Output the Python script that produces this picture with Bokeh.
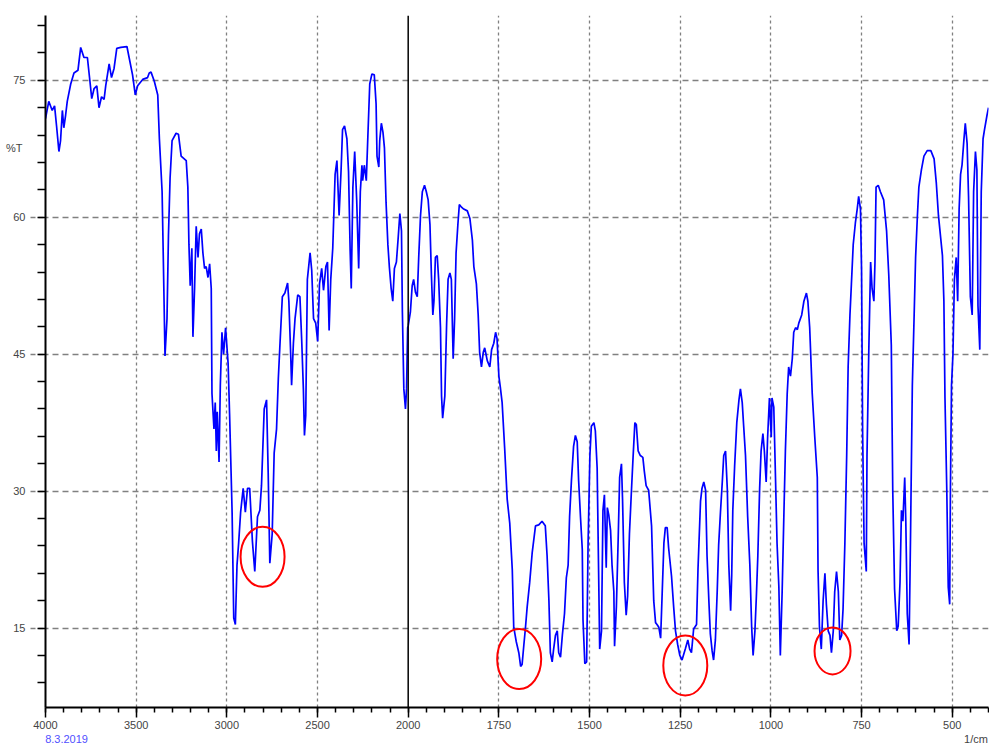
import numpy as np
from bokeh.plotting import figure
from bokeh.models import Range1d, FixedTicker, Span, ColumnDataSource, LinearAxis
from bokeh.embed import file_html
from bokeh.resources import INLINE

# ---------------- data ----------------
wn_high = [4000, 3982, 3963, 3950, 3939, 3926, 3917, 3907, 3899, 3889, 3880, 3861, 3843, 3821,
           3806, 3788, 3769, 3755, 3745, 3732, 3717, 3705, 3691, 3677, 3668, 3649, 3636, 3622,
           3607, 3585, 3551, 3539, 3520, 3505, 3492, 3464, 3437, 3428, 3418, 3400, 3381, 3372,
           3357, 3350, 3341, 3330, 3322, 3313, 3302, 3280, 3267, 3252, 3224, 3215, 3209, 3202,
           3193, 3187, 3178, 3169, 3159, 3151, 3141, 3132, 3123, 3114, 3104, 3095, 3086, 3082,
           3071, 3064, 3058, 3053, 3043, 3036, 3027, 3018, 3007, 2993, 2985, 2971, 2962, 2953,
           2944, 2935, 2924, 2910, 2898, 2886, 2874, 2859, 2846, 2831, 2818, 2809, 2794, 2781,
           2772, 2763, 2750, 2739, 2726, 2716, 2708, 2694, 2680, 2665, 2658, 2648, 2643, 2633,
           2624, 2609, 2597, 2587, 2578, 2572, 2565, 2556, 2541, 2532, 2522, 2510, 2499, 2489,
           2477, 2467, 2454, 2445, 2436, 2427, 2416, 2403, 2393, 2381, 2370, 2362, 2351, 2338,
           2329, 2320, 2314, 2305, 2295, 2284, 2273, 2264, 2255, 2251, 2242, 2231, 2222, 2212,
           2200, 2187, 2177, 2172, 2162, 2157, 2148, 2139, 2131, 2122, 2112, 2104, 2094, 2085,
           2076, 2065, 2055, 2046, 2037, 2032, 2024, 2015, 2009, 2003]
t_high = [70.8, 72.7, 71.7, 72.2, 70.0, 67.2, 68.4, 71.7, 69.8, 71.2, 72.7, 74.6, 75.8, 76.1,
          78.6, 77.5, 77.5, 74.9, 73.0, 74.1, 74.4, 72.0, 73.2, 72.9, 74.4, 76.8, 75.3, 76.3,
          78.5, 78.6, 78.7, 77.5, 75.6, 73.4, 74.4, 75.1, 75.3, 75.8, 75.9, 74.9, 73.4, 68.6,
          62.8, 55.1, 44.8, 48.9, 58.0, 64.3, 68.4, 69.2, 69.1, 66.7, 66.2, 63.3, 57.0, 52.5,
          56.6, 46.9, 52.2, 59.0, 55.6, 58.2, 58.7, 56.1, 54.4, 54.6, 53.4, 54.9, 52.2, 40.7,
          36.8, 39.7, 34.4, 38.7, 33.2, 41.6, 47.4, 45.0, 47.9, 44.0, 38.5, 27.7, 16.1, 15.4,
          21.9, 24.3, 27.7, 30.3, 27.7, 30.3, 30.3, 24.5, 21.2, 27.2, 27.9, 30.6, 39.0, 40.0,
          32.0, 22.1, 25.3, 34.2, 36.8, 42.4, 45.7, 51.3, 51.7, 52.8, 50.8, 45.0, 41.6, 46.2,
          48.9, 51.5, 51.3, 46.4, 41.2, 36.1, 38.3, 53.2, 56.1, 54.2, 48.9, 48.4, 46.4, 52.7,
          54.4, 52.0, 54.6, 55.1, 47.6, 53.2, 56.6, 64.7, 66.2, 60.2, 65.2, 69.6, 70.0, 68.6,
          65.0, 56.3, 52.2, 63.3, 67.2, 61.9, 54.4, 62.8, 65.7, 64.0, 65.7, 64.0, 69.1, 74.6,
          75.7, 75.6, 72.4, 66.7, 65.5, 68.4, 70.3, 69.3, 67.6, 61.6, 57.0, 54.6, 52.2, 50.8,
          54.4, 55.1, 57.8, 60.4, 58.5, 49.6, 41.2, 39.0, 41.2, 47.9]

wn_low = [2000, 1994, 1989, 1985, 1980, 1975, 1971, 1966, 1961, 1955, 1950, 1945, 1940, 1936,
          1932, 1929, 1925, 1920, 1916, 1911, 1908, 1905, 1899, 1894, 1890, 1885, 1881, 1876,
          1872, 1868, 1863, 1859, 1853, 1847, 1837, 1830, 1823, 1819, 1812, 1807, 1803, 1798,
          1793, 1789, 1782, 1775, 1770, 1764, 1759, 1755, 1750, 1746, 1741, 1734, 1727, 1720,
          1713, 1709, 1702, 1695, 1690, 1686, 1681, 1677, 1672, 1665, 1658, 1649, 1640, 1631,
          1622, 1617, 1612, 1608, 1603, 1599, 1594, 1589, 1585, 1580, 1575, 1569, 1564, 1559,
          1555, 1550, 1544, 1539, 1534, 1530, 1525, 1520, 1518, 1513, 1508, 1504, 1499, 1495,
          1488, 1484, 1479, 1475, 1472, 1467, 1463, 1459, 1454, 1451, 1447, 1442, 1438, 1433,
          1431, 1426, 1421, 1417, 1412, 1409, 1404, 1399, 1395, 1390, 1385, 1380, 1375, 1371,
          1366, 1360, 1353, 1349, 1344, 1337, 1329, 1323, 1318, 1314, 1309, 1304, 1300, 1295,
          1291, 1286, 1282, 1274, 1268, 1263, 1257, 1251, 1245, 1236, 1229, 1224, 1219, 1213,
          1205, 1201, 1194, 1190, 1185, 1180, 1176, 1171, 1167, 1162, 1158, 1153, 1148, 1144,
          1139, 1134, 1130, 1125, 1120, 1116, 1111, 1108, 1105, 1100, 1094, 1088, 1084, 1079,
          1075, 1070, 1064, 1058, 1053, 1049, 1044, 1040, 1036, 1031, 1027, 1022, 1018, 1013,
          1009, 1004, 999, 997, 992, 987, 983, 978, 974, 969, 964, 960, 955, 951,
          946, 941, 937, 932, 927, 923, 915, 909, 902, 898, 893, 886, 879, 872,
          870, 866, 861, 856, 851, 847, 842, 837, 833, 828, 824, 819, 814, 810,
          805, 801, 796, 791, 787, 782, 778, 773, 767, 762, 758, 753, 750, 747,
          743, 737, 735, 730, 725, 721, 716, 713, 710, 704, 698, 689, 681, 675,
          668, 664, 659, 653, 649, 644, 640, 636, 631, 628, 624, 619, 615, 610,
          605, 601, 596, 592, 585, 578, 569, 559, 550, 544, 538, 532, 527, 523,
          520, 515, 511, 507, 505, 502, 498, 494, 489, 485, 481, 477, 473, 468,
          464, 459, 455, 450, 445, 441, 436, 432, 429, 424, 420, 415, 411, 404, 400]
t_low = [48.1, 49.6, 52.5, 53.2, 51.8, 51.3, 55.6, 60.2, 62.8, 63.5, 62.8, 61.9, 59.2, 53.7,
         49.3, 50.8, 55.6, 55.8, 53.2, 47.9, 40.4, 38.0, 40.4, 48.4, 53.2, 53.9, 53.2, 44.5,
         48.9, 56.1, 59.2, 61.4, 61.1, 60.9, 60.7, 59.9, 57.5, 54.6, 52.7, 49.3, 45.2, 43.6,
         45.2, 45.7, 44.3, 43.6, 45.5, 46.2, 47.4, 46.7, 42.6, 41.4, 39.7, 34.7, 29.1, 26.5,
         21.4, 15.1, 13.5, 12.3, 10.8, 11.0, 13.2, 14.9, 17.3, 20.0, 23.3, 26.2, 26.3, 26.7,
         26.2, 22.9, 18.0, 12.3, 11.3, 12.7, 14.2, 14.7, 12.3, 11.8, 14.2, 16.6, 20.5, 21.9,
         27.2, 31.1, 34.9, 36.1, 35.4, 31.1, 27.2, 23.6, 15.9, 11.1, 11.3, 24.3, 33.9, 37.1,
         37.5, 36.6, 32.5, 21.2, 12.7, 14.7, 27.9, 29.6, 21.6, 28.2, 27.4, 25.7, 21.9, 19.0,
         13.0, 17.3, 24.8, 31.5, 33.0, 29.1, 20.0, 16.4, 18.5, 25.3, 29.6, 33.7, 37.5, 37.3,
         34.4, 33.9, 33.7, 32.2, 30.6, 30.1, 26.2, 18.0, 15.6, 15.4, 15.1, 13.9, 18.5, 24.3,
         26.0, 26.0, 23.8, 20.7, 17.3, 14.7, 13.2, 12.0, 11.5, 12.7, 13.7, 12.7, 12.3, 14.9,
         15.4, 21.4, 28.9, 30.3, 31.0, 30.1, 22.9, 18.0, 14.4, 12.5, 11.5, 13.7, 19.0, 24.1,
         27.7, 31.0, 33.9, 34.4, 30.1, 21.9, 16.9, 20.8, 27.9, 32.7, 37.5, 40.0, 41.2, 39.7,
         37.1, 33.9, 27.2, 21.9, 15.1, 12.0, 14.7, 18.5, 22.9, 30.3, 34.4, 36.3, 34.4, 31.0,
         35.9, 40.2, 35.9, 40.2, 39.2, 31.0, 24.3, 19.5, 12.0, 18.9, 27.7, 34.4, 40.7, 43.6,
         42.6, 44.5, 47.4, 47.9, 47.7, 48.4, 49.3, 50.8, 51.7, 50.8, 47.9, 40.7, 35.9, 31.5,
         21.4, 15.1, 12.7, 18.0, 21.0, 17.6, 14.7, 14.2, 12.3, 14.7, 19.0, 21.2, 19.0, 13.7,
         14.2, 17.1, 24.3, 33.9, 43.6, 49.3, 52.7, 57.0, 59.4, 60.9, 62.3, 60.9, 54.2, 36.3,
         24.3, 21.2, 33.9, 45.5, 55.1, 52.2, 50.8, 55.1, 63.3, 63.5, 62.8, 61.9, 58.5, 53.7,
         46.0, 30.1, 19.3, 14.7, 15.2, 20.0, 27.9, 26.7, 31.5, 26.7, 16.6, 13.2, 25.0, 41.6,
         49.3, 55.6, 60.2, 63.3, 65.2, 66.7, 67.3, 67.3, 66.4, 63.8, 60.2, 57.8, 55.8, 50.8,
         40.2, 30.1, 19.5, 17.6, 30.1, 41.6, 45.0, 53.2, 55.6, 50.8, 60.9, 64.7, 65.7, 68.4,
         70.3, 68.1, 62.3, 51.3, 49.3, 62.8, 67.2, 65.2, 50.3, 45.5, 62.8, 68.6, 69.6, 71.2, 72.0]

x_tick_values = [4000, 3500, 3000, 2500, 2000, 1750, 1500, 1250, 1000, 750, 500]
y_tick_values = [15, 30, 45, 60, 75]
y_unit_label = "%T"
x_unit_label = "1/cm"
date_label = "8.3.2019"

# marked bands (red circles)
circle_wn = [2803, 1694, 1236, 830]
circle_t = [22.8, 11.6, 10.9, 12.5]

# ---------------- axis transform: 4000-2000 region compressed 2:1 ----------------
BREAK = 2000.0


def to_axis(w):
    w = np.asarray(w, dtype=float)
    return np.where(w > BREAK, BREAK + (w - BREAK) / 2.0, w)


wn = wn_high + wn_low
tt = t_high + t_low
src = ColumnDataSource(dict(x=to_axis(wn), y=tt))

X0 = float(to_axis(4000))
p = figure(width=989, height=747, output_backend="svg", toolbar_location=None,
           x_range=Range1d(X0, 400.0), y_range=Range1d(6.3, 82.1),
           min_border_left=45, min_border_right=1, min_border_top=15, min_border_bottom=39)
p.background_fill_color = "white"
p.border_fill_color = "white"
p.outline_line_color = None

FONT = "Liberation Sans"
LABEL_GREY = "#444444"


def label_only_axis(ticks, overrides, standoff, color):
    return LinearAxis(ticker=FixedTicker(ticks=ticks, minor_ticks=[]),
                      major_label_overrides=overrides,
                      axis_line_color=None, major_tick_line_color=None,
                      minor_tick_line_color=None,
                      major_tick_out=0, major_tick_in=0, minor_tick_out=0, minor_tick_in=0,
                      major_label_standoff=standoff, major_label_text_font=FONT,
                      major_label_text_font_size="11px", major_label_text_color=color)


# ---- main x axis ----
xt = [float(v) for v in to_axis(x_tick_values)]
minor_x = list(np.arange(400, X0 + 1, 50).astype(float))
xa = p.xaxis[0]
xa.ticker = FixedTicker(ticks=xt, minor_ticks=minor_x)
xa.major_label_overrides = {t: str(v) for t, v in zip(xt, x_tick_values)}
xa.axis_line_color = "black"
xa.axis_line_width = 2
xa.major_tick_in = 0
xa.minor_tick_in = 0
xa.major_tick_out = 10
xa.minor_tick_out = 5
xa.major_tick_line_color = "black"
xa.major_tick_line_width = 1.5
xa.minor_tick_line_color = "black"
xa.minor_tick_line_width = 1.5
xa.major_label_standoff = 3
xa.major_label_text_font = FONT
xa.major_label_text_font_size = "11px"
xa.major_label_text_color = LABEL_GREY

# ---- main y axis ----
ya = p.yaxis[0]
ya.ticker = FixedTicker(ticks=y_tick_values, minor_ticks=list(range(6, 83, 3)))
ya.axis_line_color = "black"
ya.axis_line_width = 2
ya.major_tick_in = 0
ya.minor_tick_in = 0
ya.major_tick_out = 15
ya.minor_tick_out = 8
ya.major_tick_line_color = "#808080"
ya.major_tick_line_width = 1.5
ya.major_tick_line_dash = "5 3"
ya.minor_tick_line_color = "black"
ya.minor_tick_line_width = 1.5
ya.major_label_standoff = 5
ya.major_label_text_font = FONT
ya.major_label_text_font_size = "11px"
ya.major_label_text_color = LABEL_GREY

# ---- "%T" unit label: label-only axis pulled back next to the value labels ----
y_unit_pos = 67.55
p.add_layout(label_only_axis([y_unit_pos], {y_unit_pos: y_unit_label}, -12, LABEL_GREY), "left")

# ---- date (blue) and unit (grey) under the x tick labels ----
date_pos = X0 - 58.0
unit_pos = 434.4
p.add_layout(label_only_axis([date_pos], {date_pos: date_label}, 3, "#5050ff"), "below")
p.add_layout(label_only_axis([unit_pos], {unit_pos: x_unit_label}, -13, LABEL_GREY), "below")

# grid
p.xgrid.ticker = FixedTicker(ticks=[v for v in xt if v != BREAK])
p.xgrid.grid_line_color = "#808080"
p.xgrid.grid_line_dash = "3 3"
p.xgrid.grid_line_width = 1.3
p.ygrid.ticker = FixedTicker(ticks=y_tick_values)
p.ygrid.grid_line_color = "#808080"
p.ygrid.grid_line_dash = "6 4"
p.ygrid.grid_line_width = 1.3

p.add_layout(Span(location=BREAK, dimension="height", line_color="black", line_width=1.5))

# spectrum
p.line("x", "y", source=src, line_color="#0000ff", line_width=1.7)

# red circles
p.ellipse(x=to_axis(circle_wn), y=circle_t, width=[44, 44, 44, 36], height=[60, 60, 60, 47],
          width_units="screen", height_units="screen",
          fill_color=None, line_color="red", line_width=2)

open("out.html", "w").write(file_html(p, INLINE))
